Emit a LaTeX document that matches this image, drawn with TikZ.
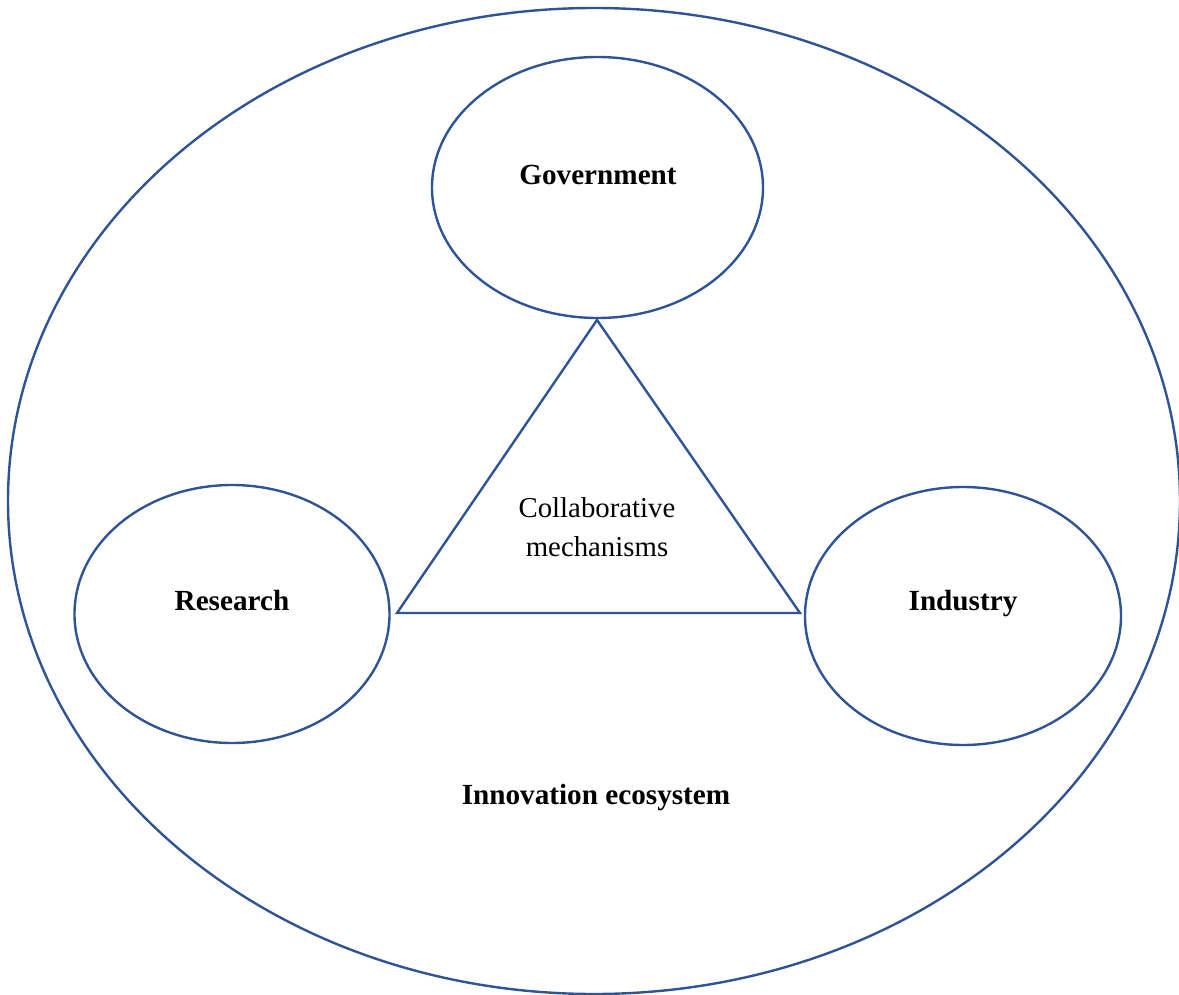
\documentclass[tikz,border=0pt]{standalone}
\usepackage{fontspec}
\setmainfont{Liberation Serif}
\usetikzlibrary{shapes.geometric}
\definecolor{edgeblue}{HTML}{2F5496}
\begin{document}
\begin{tikzpicture}[x=0.5pt,y=-0.5pt,
  outline/.style={draw=edgeblue,line width=1.2pt},
  actor/.style={outline,ellipse,inner sep=0pt},
  lbl/.style={font=\fontsize{14.6}{19.5}\selectfont\bfseries,inner sep=0pt},
  mech/.style={font=\fontsize{14.4}{19.5}\selectfont,align=center,inner sep=0pt}]
\useasboundingbox (0,0) rectangle (1179,995);
% surrounding ecosystem
\node[actor,minimum width=586pt,minimum height=493pt] (eco) at (594,501) {};
% the three actors
\node[actor,minimum width=165.5pt,minimum height=130.5pt] (gov) at (597.5,187.5) {};
\node[actor,minimum width=157.5pt,minimum height=129pt] (res) at (232,614) {};
\node[actor,minimum width=158pt,minimum height=129pt] (ind) at (963,616) {};
\node[lbl] (govt) at (598,175) {Government};
\node[lbl] (rest) at (232,601) {Research};
\node[lbl] (indt) at (963,604) {Industry};
\node[lbl] (ecot) at (596,798) {Innovation ecosystem};
% collaboration triangle
\coordinate (apex) at (597,320);
\coordinate (bl) at (397,613);
\coordinate (br) at (800,613);
\draw[outline,line join=miter] (apex) -- (br) -- (bl) -- cycle;
\node[mech] (mecht) at (597,527) {Collaborative\\mechanisms};
\end{tikzpicture}
\end{document}
